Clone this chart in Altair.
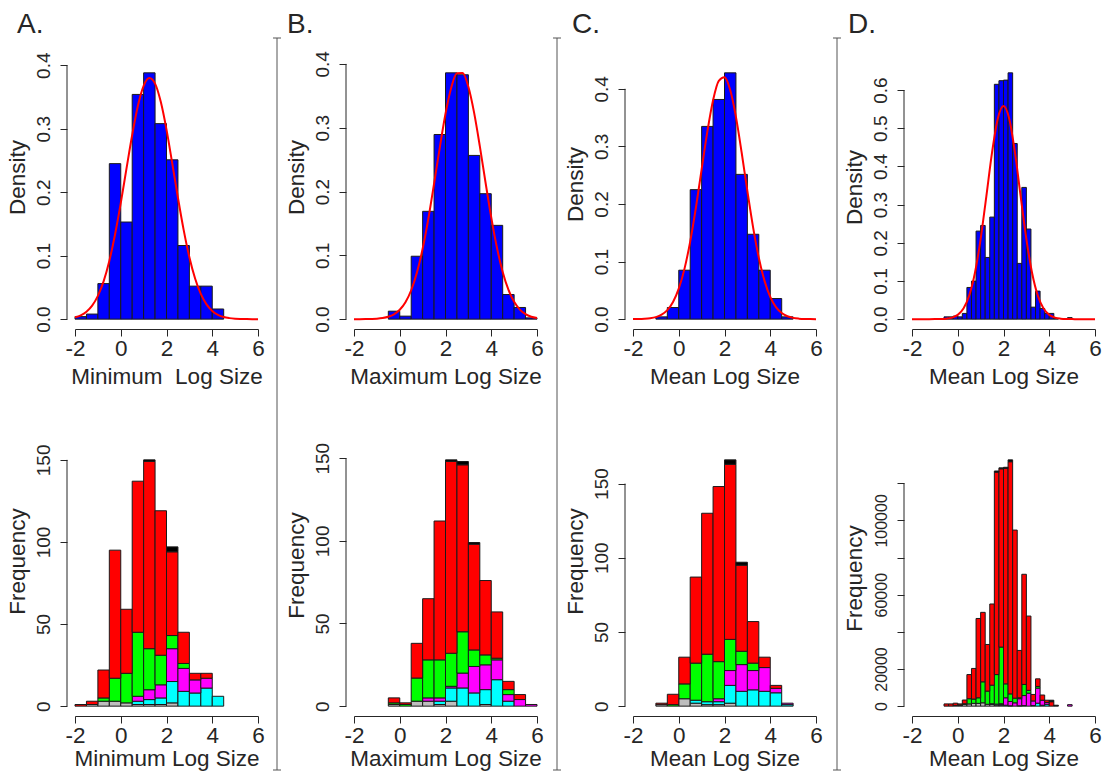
import altair as alt
import pandas as pd

FONT = "Liberation Sans"
TXT = "#262626"
LINE = "#262626"
W, H = 183, 266

XT = [-2, 0, 2, 4, 6]
CATS = ["grey", "cyan", "magenta", "green", "red", "black"]
COLS = ["#BEBEBE", "#00FFFF", "#FF00FF", "#00FF00", "#FF0000", "#000000"]

CURVE_X = [-2.0, -1.75, -1.5, -1.25, -1.0, -0.75, -0.5, -0.25, 0.0, 0.25, 0.5, 0.75,
           1.0, 1.25, 1.5, 1.75, 2.0, 2.25, 2.5, 2.75, 3.0, 3.25, 3.5, 3.75, 4.0,
           4.25, 4.5, 4.75, 5.0, 5.25, 5.5, 5.75, 6.0]

# ---------- Panel A ----------
A_bins = [-2.0, -1.5, -1.0, -0.5, 0.0, 0.5, 1.0, 1.5, 2.0, 2.5, 3.0, 3.5, 4.0]
A_width = 0.5
A_density = [0.004, 0.008, 0.056, 0.245, 0.153, 0.354, 0.388, 0.308, 0.251, 0.116, 0.052, 0.052, 0.016]
A_curve = [0.0030, 0.0061, 0.0117, 0.0213, 0.0367, 0.0596, 0.0917, 0.1334, 0.1827, 0.2370, 0.2901,
           0.3361, 0.3676, 0.3798, 0.3710, 0.3423, 0.2986, 0.2458, 0.1913, 0.1406, 0.0976, 0.0641,
           0.0397, 0.0232, 0.0129, 0.0068, 0.0033, 0.0016, 0.0007, 0.0003, 0.0001, 0.0, 0.0]
A_grey = [0, 1, 3, 3, 2, 1, 1, 1, 2, 0, 0, 0, 0]
A_cyan = [0, 0, 0, 0, 0, 2, 3, 4, 13, 9, 8, 11, 6]
A_magenta = [0, 0, 0, 0, 0, 3, 6, 8, 20, 14, 8, 6, 0]
A_green = [0, 0, 2, 14, 18, 39, 25, 18, 8, 3, 0, 0, 0]
A_red = [1, 2, 17, 78, 39, 92, 114, 88, 51, 19, 4, 3, 0]
A_black = [0, 0, 0, 0, 0, 0, 1, 0, 3, 0, 0, 0, 0]

# ---------- Panel B ----------
B_bins = [-0.5, 0.0, 0.5, 1.0, 1.5, 2.0, 2.5, 3.0, 3.5, 4.0, 4.5, 5.0, 5.5]
B_width = 0.5
B_density = [0.0125, 0.0047, 0.0986, 0.169, 0.2894, 0.386, 0.383, 0.2566, 0.1966, 0.147, 0.0386, 0.0183, 0.002]
B_curve = [0.0, 0.0, 0.0001, 0.0003, 0.0007, 0.0017, 0.0037, 0.0076, 0.0147, 0.0265, 0.0453,
           0.0729, 0.1102, 0.1573, 0.2122, 0.2689, 0.3219, 0.3627, 0.3853, 0.3858, 0.3641, 0.3236,
           0.2712, 0.2142, 0.1594, 0.1118, 0.0740, 0.0462, 0.0271, 0.0150, 0.0078, 0.0038, 0.0018]
B_grey = [1, 0, 3, 3, 1, 3, 0, 0, 1, 0, 0, 0, 0]
B_cyan = [0, 0, 0, 0, 2, 8, 11, 8, 9, 16, 3, 0, 0]
B_magenta = [0, 0, 0, 2, 2, 1, 9, 16, 15, 12, 4, 4, 1]
B_green = [1, 1, 14, 23, 23, 20, 25, 10, 6, 1, 3, 0, 0]
B_red = [3, 1, 21, 37, 84, 116, 101, 64, 45, 28, 5, 3, 0]
B_black = [0, 0, 0, 0, 0, 1, 2, 1, 0, 0, 0, 0, 0]

# ---------- Panel C ----------
C_bins = [-1.0, -0.5, 0.0, 0.5, 1.0, 1.5, 2.0, 2.5, 3.0, 3.5, 4.0, 4.5]
C_width = 0.5
C_density = [0.004, 0.0202, 0.085, 0.2249, 0.3347, 0.3815, 0.4277, 0.2514, 0.1474, 0.085, 0.0358, 0.004]
C_curve = [0.0001, 0.0002, 0.0006, 0.0015, 0.0035, 0.0077, 0.0157, 0.0298, 0.0529, 0.0873, 0.1347,
           0.1936, 0.2601, 0.3256, 0.3802, 0.4137, 0.4200, 0.3978, 0.3513, 0.2894, 0.2225, 0.1595,
           0.1067, 0.0665, 0.0387, 0.0209, 0.0106, 0.0050, 0.0022, 0.0009, 0.0003, 0.0001, 0.0]
C_grey = [1, 0, 5, 2, 1, 1, 2, 0, 0, 0, 0, 0]
C_cyan = [0, 0, 0, 2, 2, 2, 12, 10, 11, 10, 9, 1]
C_magenta = [0, 0, 0, 0, 0, 2, 10, 18, 13, 16, 3, 1]
C_green = [0, 1, 10, 25, 32, 25, 21, 9, 5, 0, 0, 0]
C_red = [1, 7, 18, 58, 95, 118, 118, 58, 28, 7, 2, 0]
C_black = [0, 0, 0, 0, 0, 0, 3, 2, 0, 0, 0, 0]

# ---------- Panel D ----------
D_bins = [-0.6, -0.4, -0.2, 0.0, 0.2, 0.4, 0.6, 0.8, 1.0, 1.2, 1.4, 1.6, 1.8, 2.0, 2.2, 2.4,
          2.6, 2.8, 3.0, 3.2, 3.4, 3.6, 3.8, 4.0, 4.2, 4.8]
D_width = 0.2
D_density = [0.006, 0.006, 0.008, 0.006, 0.015, 0.083, 0.0996, 0.2306, 0.2454, 0.1616, 0.2673,
             0.615, 0.6245, 0.626, 0.645, 0.460, 0.146, 0.345, 0.236, 0.0314, 0.0734, 0.028,
             0.015, 0.015, 0.002, 0.004]
D_curve = [0.0, 0.0, 0.0, 0.0, 0.0001, 0.0003, 0.0012, 0.0039, 0.0112, 0.0278, 0.0617, 0.1210,
           0.2097, 0.3218, 0.4369, 0.5248, 0.5579, 0.5248, 0.4369, 0.3218, 0.2097, 0.1210, 0.0617,
           0.0278, 0.0112, 0.0039, 0.0012, 0.0003, 0.0001, 0.0, 0.0, 0.0, 0.0]
D_grey = [0, 0, 400, 500, 1000, 1200, 1500, 1500, 1800, 1000, 1000, 600, 500, 0, 0, 0, 0, 0, 0,
          0, 0, 0, 0, 0, 0, 0]
D_cyan = [0, 0, 0, 0, 0, 0, 0, 0, 0, 0, 300, 500, 500, 500, 200, 0, 200, 300, 0, 300, 1600, 500,
          1000, 0, 0, 0]
D_magenta = [0, 0, 0, 0, 0, 0, 0, 0, 0, 0, 0, 0, 300, 4000, 2300, 1800, 3800, 5400, 7000, 2500,
             8100, 2700, 1000, 0, 0, 800]
D_green = [0, 0, 0, 200, 300, 2800, 2300, 3000, 11300, 7100, 10000, 15900, 30500, 7500, 4100,
           2500, 500, 6000, 1500, 0, 900, 0, 0, 0, 0, 0]
D_red = [1200, 1200, 1200, 500, 2000, 13000, 16500, 42700, 37400, 25100, 43700, 109000, 96000,
         116000, 125000, 90500, 25500, 59300, 40000, 3500, 4100, 2800, 1200, 2400, 0, 0]
D_black = [0, 0, 0, 0, 0, 0, 0, 0, 0, 0, 0, 600, 500, 600, 1000, 0, 0, 0, 0, 0, 0, 0, 0, 800, 500, 0]

DENS_T = [0.0, 0.1, 0.2, 0.3, 0.4]
DENS_T_D = [0.0, 0.1, 0.2, 0.3, 0.4, 0.5, 0.6]
FREQ_T = [0, 50, 100, 150]
FREQ_T_D = [0, 20000, 40000, 60000, 80000, 100000, 120000]
FREQ_SHOWN_D = [0, 20000, 60000, 100000]

XS = alt.Scale(domain=[-2, 6], nice=False, zero=False)

XLAB = 22.5
TITLE = 22.5
YLAB = 19


def x_axis(title, ty):
    return alt.Axis(values=XT, labelExpr="toString(datum.value)", tickSize=7, labelPadding=19,
                    labelBaseline="alphabetic", labelFlush=False, labelOverlap=False,
                    title=title, titleY=ty, titleBaseline="alphabetic", grid=False,
                    domainColor=LINE, tickColor=LINE, labelColor=TXT, titleColor=TXT,
                    labelFontSize=XLAB, titleFontSize=TITLE, titleFontWeight="normal",
                    labelFont=FONT, titleFont=FONT, domainWidth=1, tickWidth=1)


def y_axis(title, values, fmt, ty, label_expr=None, lab_size=YLAB):
    kw = dict(values=values, format=fmt, tickSize=7, labelAngle=270, labelAlign="center",
              labelBaseline="alphabetic", labelPadding=11, labelFlush=False, labelOverlap=False,
              offset=8, domain=False, grid=False, title=title, titleAngle=270,
              titleAlign="center", titleBaseline="alphabetic", titleX=-43, titleY=ty,
              tickColor=LINE, labelColor=TXT, titleColor=TXT, labelFontSize=lab_size,
              titleFontSize=TITLE, titleFontWeight="normal", labelFont=FONT, titleFont=FONT,
              tickWidth=1)
    if label_expr:
        kw["labelExpr"] = label_expr
    return alt.Axis(**kw)


def one():
    return pd.DataFrame({"k": [0]})


def y_domain_line(ys, yax, top):
    return alt.Chart(pd.DataFrame({"a": [0.0], "b": [top]})).mark_rule(
        color=LINE, strokeWidth=1).encode(
        x=alt.value(-8), y=alt.Y("a:Q", scale=ys, axis=yax), y2="b:Q")


def separator(sx):
    top, bot = -25, 707
    v = alt.Chart(one()).mark_rule(color="#555555", strokeWidth=1).encode(
        x=alt.value(sx), y=alt.value(top), y2=alt.value(bot))
    t1 = alt.Chart(one()).mark_rule(color="#555555", strokeWidth=1).encode(
        x=alt.value(sx - 4), x2=alt.value(sx + 4), y=alt.value(top))
    t2 = alt.Chart(one()).mark_rule(color="#555555", strokeWidth=1).encode(
        x=alt.value(sx - 4), x2=alt.value(sx + 4), y=alt.value(bot))
    return [v, t1, t2]


def top_panel(bins, width, dens, curve, yt, xtitle, ty, letter, lx, sx=None):
    M = max(dens)
    ys = alt.Scale(domain=[-0.04 * M, 1.04 * M], nice=False, zero=False)
    xax = x_axis(xtitle, 54)
    yax = y_axis("Density", yt, ".1f", ty)
    df = pd.DataFrame({"start": bins, "end": [b + width for b in bins], "density": dens,
                       "base": [0.0] * len(bins)})
    bars = alt.Chart(df).mark_bar(fill="#0000FF", stroke="#1a1a1a", strokeWidth=1).encode(
        x=alt.X("start:Q", scale=XS, axis=xax), x2="end:Q",
        y=alt.Y("density:Q", scale=ys, axis=yax), y2="base:Q")
    line = alt.Chart(pd.DataFrame({"x": CURVE_X, "y": curve})).mark_line(
        color="#FF0000", strokeWidth=2, interpolate="monotone").encode(
        x=alt.X("x:Q", scale=XS, axis=xax), y=alt.Y("y:Q", scale=ys, axis=yax))
    lab = alt.Chart(pd.DataFrame({"t": [letter]})).mark_text(
        align="left", baseline="alphabetic", fontSize=28, font=FONT, color=TXT).encode(
        text="t:N", x=alt.value(lx), y=alt.value(-30))
    layers = [bars, line, y_domain_line(ys, yax, yt[-1]), lab]
    if sx is not None:
        layers += separator(sx)
    return alt.layer(*layers).properties(width=W, height=H)


def bottom_panel(bins, width, comps, yt, xtitle, ty, label_expr=None, lab_size=YLAB):
    rows = []
    totals = [0] * len(bins)
    for order, (cat, vals) in enumerate(zip(CATS, comps)):
        for i, (b, v) in enumerate(zip(bins, vals)):
            totals[i] += v
            if v > 0:
                rows.append({"start": b, "end": b + width, "cat": cat, "order": order, "count": v})
    df = pd.DataFrame(rows)
    M = max(totals)
    ys = alt.Scale(domain=[-0.04 * M, 1.04 * M], nice=False, zero=False)
    xax = x_axis(xtitle, 49)
    yax = y_axis("Frequency", yt, "d", ty, label_expr, lab_size)
    bars = alt.Chart(df).transform_stack(
        stack="count", as_=["y0", "y1"], groupby=["start"],
        sort=[alt.SortField("order", order="ascending")]).mark_bar(
        stroke="#1a1a1a", strokeWidth=1).encode(
        x=alt.X("start:Q", scale=XS, axis=xax), x2="end:Q",
        y=alt.Y("y1:Q", scale=ys, axis=yax), y2="y0:Q",
        color=alt.Color("cat:N", scale=alt.Scale(domain=CATS, range=COLS), legend=None))
    return alt.layer(bars, y_domain_line(ys, yax, yt[-1])).properties(width=W, height=H)


d_expr = "indexof(" + str(FREQ_SHOWN_D) + ", datum.value) >= 0 ? toString(datum.value) : ''"

charts = [
    top_panel(A_bins, A_width, A_density, A_curve, DENS_T, "Minimum\u00a0 Log Size", 114, "A.", -58),
    top_panel(B_bins, B_width, B_density, B_curve, DENS_T, "Maximum Log Size", 114, "B.", -67, -77),
    top_panel(C_bins, C_width, C_density, C_curve, DENS_T, "Mean Log Size", 121, "C.", -61, -76),
    top_panel(D_bins, D_width, D_density, D_curve, DENS_T_D, "Mean Log Size", 124, "D.", -64, -75),
    bottom_panel(A_bins, A_width, [A_grey, A_cyan, A_magenta, A_green, A_red, A_black],
                 FREQ_T, "Minimum Log Size", 111),
    bottom_panel(B_bins, B_width, [B_grey, B_cyan, B_magenta, B_green, B_red, B_black],
                 FREQ_T, "Maximum Log Size", 115),
    bottom_panel(C_bins, C_width, [C_grey, C_cyan, C_magenta, C_green, C_red, C_black],
                 FREQ_T, "Mean Log Size", 111),
    bottom_panel(D_bins, D_width, [D_grey, D_cyan, D_magenta, D_green, D_red, D_black],
                 FREQ_T_D, "Mean Log Size", 128, d_expr, 16),
]

chart = alt.concat(*charts, columns=4, spacing={"row": 121, "column": 96}, bounds="flush").properties(
    autosize=alt.AutoSizeParams(type="none"),
    padding={"left": 75, "top": 63, "right": 1032, "bottom": 710},
    background="white",
).configure_view(stroke=None)

chart.save("out.html", embed_options={"renderer": "svg", "actions": False})
